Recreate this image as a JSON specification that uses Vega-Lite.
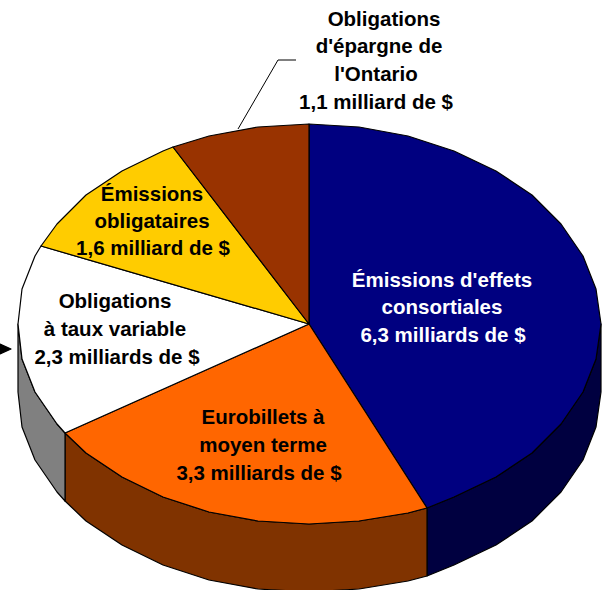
{"$schema":"https://vega.github.io/schema/vega-lite/v6.json","width":608,"height":590,"padding":0,"autosize":{"type":"fit","contains":"padding"},"background":"white","view":{"stroke":null},
"datasets":{"shapes":[
{"s":"Côté effets","x":601,"y":324},{"s":"Côté effets","x":596,"y":359},{"s":"Côté effets","x":583,"y":392},{"s":"Côté effets","x":561,"y":424},{"s":"Côté effets","x":532,"y":453},{"s":"Côté effets","x":496,"y":477},{"s":"Côté effets","x":454,"y":497},{"s":"Côté effets","x":427,"y":508},{"s":"Côté effets","x":427,"y":576},{"s":"Côté effets","x":454,"y":565},{"s":"Côté effets","x":496,"y":545},{"s":"Côté effets","x":532,"y":521},{"s":"Côté effets","x":561,"y":492},{"s":"Côté effets","x":583,"y":460},{"s":"Côté effets","x":596,"y":427},{"s":"Côté effets","x":601,"y":392},
{"s":"Côté eurobillets","x":427,"y":508},{"s":"Côté eurobillets","x":408,"y":513},{"s":"Côté eurobillets","x":359,"y":521},{"s":"Côté eurobillets","x":309,"y":524},{"s":"Côté eurobillets","x":258,"y":521},{"s":"Côté eurobillets","x":209,"y":512},{"s":"Côté eurobillets","x":163,"y":497},{"s":"Côté eurobillets","x":122,"y":477},{"s":"Côté eurobillets","x":86,"y":453},{"s":"Côté eurobillets","x":65,"y":433},{"s":"Côté eurobillets","x":65,"y":501},{"s":"Côté eurobillets","x":86,"y":521},{"s":"Côté eurobillets","x":122,"y":545},{"s":"Côté eurobillets","x":163,"y":565},{"s":"Côté eurobillets","x":209,"y":580},{"s":"Côté eurobillets","x":258,"y":589},{"s":"Côté eurobillets","x":309,"y":592},{"s":"Côté eurobillets","x":359,"y":589},{"s":"Côté eurobillets","x":408,"y":581},{"s":"Côté eurobillets","x":427,"y":576},
{"s":"Côté taux variable","x":65,"y":433},{"s":"Côté taux variable","x":57,"y":424},{"s":"Côté taux variable","x":35,"y":392},{"s":"Côté taux variable","x":22,"y":359},{"s":"Côté taux variable","x":18,"y":324},{"s":"Côté taux variable","x":18,"y":392},{"s":"Côté taux variable","x":22,"y":427},{"s":"Côté taux variable","x":35,"y":460},{"s":"Côté taux variable","x":57,"y":492},{"s":"Côté taux variable","x":65,"y":501},
{"s":"Effets consortiaux","x":309,"y":324},{"s":"Effets consortiaux","x":309,"y":124},{"s":"Effets consortiaux","x":359,"y":127},{"s":"Effets consortiaux","x":408,"y":136},{"s":"Effets consortiaux","x":454,"y":151},{"s":"Effets consortiaux","x":496,"y":171},{"s":"Effets consortiaux","x":532,"y":195},{"s":"Effets consortiaux","x":561,"y":224},{"s":"Effets consortiaux","x":583,"y":256},{"s":"Effets consortiaux","x":596,"y":289},{"s":"Effets consortiaux","x":601,"y":324},{"s":"Effets consortiaux","x":596,"y":359},{"s":"Effets consortiaux","x":583,"y":392},{"s":"Effets consortiaux","x":561,"y":424},{"s":"Effets consortiaux","x":532,"y":453},{"s":"Effets consortiaux","x":496,"y":477},{"s":"Effets consortiaux","x":454,"y":497},{"s":"Effets consortiaux","x":427,"y":508},
{"s":"Eurobillets","x":309,"y":324},{"s":"Eurobillets","x":427,"y":508},{"s":"Eurobillets","x":408,"y":513},{"s":"Eurobillets","x":359,"y":521},{"s":"Eurobillets","x":309,"y":524},{"s":"Eurobillets","x":258,"y":521},{"s":"Eurobillets","x":209,"y":512},{"s":"Eurobillets","x":163,"y":497},{"s":"Eurobillets","x":122,"y":477},{"s":"Eurobillets","x":86,"y":453},{"s":"Eurobillets","x":65,"y":433},
{"s":"Taux variable","x":309,"y":324},{"s":"Taux variable","x":65,"y":433},{"s":"Taux variable","x":57,"y":424},{"s":"Taux variable","x":35,"y":392},{"s":"Taux variable","x":22,"y":359},{"s":"Taux variable","x":18,"y":324},{"s":"Taux variable","x":22,"y":289},{"s":"Taux variable","x":35,"y":256},{"s":"Taux variable","x":41,"y":246},
{"s":"Émissions obligataires","x":309,"y":324},{"s":"Émissions obligataires","x":41,"y":246},{"s":"Émissions obligataires","x":57,"y":224},{"s":"Émissions obligataires","x":86,"y":195},{"s":"Émissions obligataires","x":122,"y":171},{"s":"Émissions obligataires","x":163,"y":151},{"s":"Émissions obligataires","x":173,"y":147},
{"s":"Épargne","x":309,"y":324},{"s":"Épargne","x":173,"y":147},{"s":"Épargne","x":209,"y":136},{"s":"Épargne","x":258,"y":127},{"s":"Épargne","x":309,"y":124},
{"s":"Flèche","x":0,"y":344},{"s":"Flèche","x":11,"y":349},{"s":"Flèche","x":0,"y":354}
],
"leader":[{"x":238,"y":129},{"x":278,"y":60},{"x":296,"y":60}],
"labels":[
{"t":"Obligations","x":384,"y":20,"c":"noir"},{"t":"d'épargne de","x":379,"y":47,"c":"noir"},{"t":"l'Ontario","x":376,"y":75,"c":"noir"},{"t":"1,1 milliard de $","x":376,"y":103,"c":"noir"},
{"t":"Émissions d'effets","x":442,"y":281,"c":"blanc"},{"t":"consortiales","x":442,"y":308,"c":"blanc"},{"t":"6,3 milliards de $","x":443,"y":336,"c":"blanc"},
{"t":"Eurobillets à","x":263,"y":418,"c":"noir"},{"t":"moyen terme","x":263,"y":446,"c":"noir"},{"t":"3,3 milliards de $","x":259,"y":474,"c":"noir"},
{"t":"Obligations","x":115,"y":302,"c":"noir"},{"t":"à taux variable","x":115,"y":330,"c":"noir"},{"t":"2,3 milliards de $","x":117,"y":358,"c":"noir"},
{"t":"Émissions","x":152,"y":195,"c":"noir"},{"t":"obligataires","x":152,"y":222,"c":"noir"},{"t":"1,6 milliard de $","x":153,"y":249,"c":"noir"}
]},
"layer":[
{"data":{"name":"shapes"},"mark":{"type":"line","clip":true,"interpolate":"linear-closed","stroke":"black","strokeWidth":1.2,"strokeJoin":"round"},
"encoding":{"x":{"field":"x","type":"quantitative","scale":{"domain":[0,608]},"axis":null},"y":{"field":"y","type":"quantitative","scale":{"domain":[590,0]},"axis":null},"order":{"value":null},"detail":{"field":"s"},
"fill":{"field":"s","type":"nominal","legend":null,"scale":{"domain":["Côté effets","Côté eurobillets","Côté taux variable","Effets consortiaux","Eurobillets","Taux variable","Émissions obligataires","Épargne","Flèche"],"range":["#000040","#803300","#808080","#000080","#FF6600","#FFFFFF","#FFCC00","#993300","#000000"]}}}},
{"data":{"name":"leader"},"mark":{"type":"line","stroke":"black","strokeWidth":1},"encoding":{"x":{"field":"x","type":"quantitative","scale":{"domain":[0,608]},"axis":null},"y":{"field":"y","type":"quantitative","scale":{"domain":[590,0]},"axis":null},"order":{"value":null}}},
{"data":{"name":"labels"},"mark":{"type":"text","font":"Liberation Sans","fontWeight":"bold","fontSize":20.5,"align":"center","baseline":"middle"},
"encoding":{"x":{"field":"x","type":"quantitative","scale":{"domain":[0,608]},"axis":null},"y":{"field":"y","type":"quantitative","scale":{"domain":[590,0]},"axis":null},"text":{"field":"t"},"color":{"field":"c","type":"nominal","legend":null,"scale":{"domain":["noir","blanc"],"range":["#000000","#FFFFFF"]}}}}
]}
